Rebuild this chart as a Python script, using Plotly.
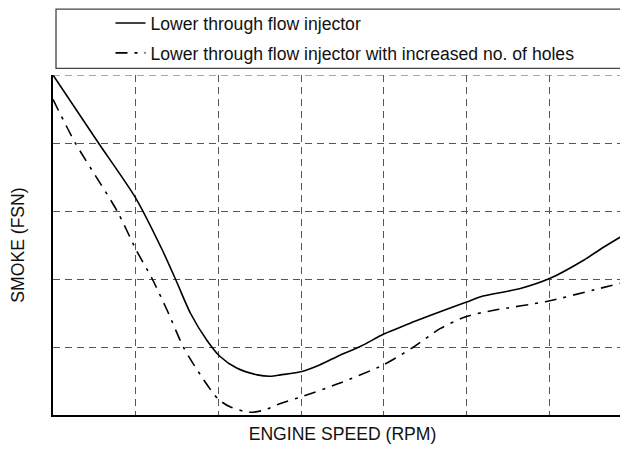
import plotly.graph_objects as go

# engine speed in grid units (the original has no tick labels)
speed_a = [0, 0.55, 1.0, 1.32, 1.48, 1.66, 1.86, 2.02, 2.22, 2.47, 2.63, 2.75, 3.01, 3.23, 3.47, 3.72, 4.0, 4.36, 4.68, 5.0, 5.17, 5.65, 6.01, 6.42, 6.66, 7.0]
smoke_a = [5.0, 4.0, 3.19, 2.43, 2.0, 1.5, 1.1, 0.86, 0.69, 0.59, 0.57, 0.59, 0.64, 0.74, 0.88, 1.01, 1.19, 1.37, 1.52, 1.66, 1.74, 1.86, 2.01, 2.28, 2.47, 2.72]

speed_b = [0, 0.27, 0.78, 1.0, 1.2, 1.38, 1.58, 1.82, 2.0, 2.14, 2.37, 2.55, 2.75, 3.01, 3.47, 4.0, 4.36, 4.68, 5.0, 5.33, 5.97, 6.54, 7.0]
smoke_b = [4.64, 4.0, 2.99, 2.44, 2.0, 1.54, 0.99, 0.52, 0.23, 0.12, 0.04, 0.07, 0.17, 0.27, 0.47, 0.74, 1.0, 1.27, 1.45, 1.54, 1.67, 1.84, 1.98]

names = ['Lower through flow injector',
         'Lower through flow injector with increased no. of holes']

fig = go.Figure()

fig.add_trace(go.Scatter(x=speed_a, y=smoke_a, mode='lines', name=names[0],
                         legendgroup='a',
                         line=dict(color='black', width=1.6, shape='spline', smoothing=0.7)))

fig.add_trace(go.Scatter(x=speed_b, y=smoke_b, mode='lines', name=names[1],
                         legendgroup='b',
                         line=dict(color='black', width=1.6, shape='spline', smoothing=0.7,
                                   dash='12px,7px,3px,7px')))

# box round the legend, above the plot area
fig.add_shape(type='rect', xref='paper', yref='paper',
              x0=0.0052, x1=1.03, y0=1.0197, y1=1.194,
              line=dict(color='#444', width=1.3))

# dashed top edge of the grid
fig.add_shape(type='line', xref='paper', yref='y', x0=0, x1=1, y0=5, y1=5,
              line=dict(color='#555', width=1, dash='7px,5px'))

fig.update_layout(
    width=628, height=451,
    margin=dict(l=45, r=4, t=67, b=44, autoexpand=False),
    paper_bgcolor='white', plot_bgcolor='white',
    font=dict(family='Liberation Sans, Arial, sans-serif', size=17.6, color='#111'),
    showlegend=True,
    legend=dict(x=0.0993, xanchor='left', y=1.2056, yanchor='top',
                bgcolor='rgba(0,0,0,0)', borderwidth=0,
                tracegroupgap=4, font=dict(size=17.6)),
    xaxis=dict(range=[0, 7], tickvals=list(range(8)), showticklabels=False,
               ticks='', showgrid=True, gridcolor='#555', griddash='7px,5px', gridwidth=1,
               showline=True, linecolor='black', linewidth=1.6, zeroline=False,
               title=dict(text='ENGINE SPEED (RPM)', standoff=12, font=dict(size=17.6))),
    yaxis=dict(range=[0, 5], tickvals=list(range(6)), showticklabels=False,
               ticks='', showgrid=True, gridcolor='#555', griddash='7px,5px', gridwidth=1,
               showline=True, linecolor='black', linewidth=1.6, zeroline=False,
               title=dict(text='SMOKE (FSN)', standoff=30, font=dict(size=17.6))),
)

fig.write_html("out.html")
